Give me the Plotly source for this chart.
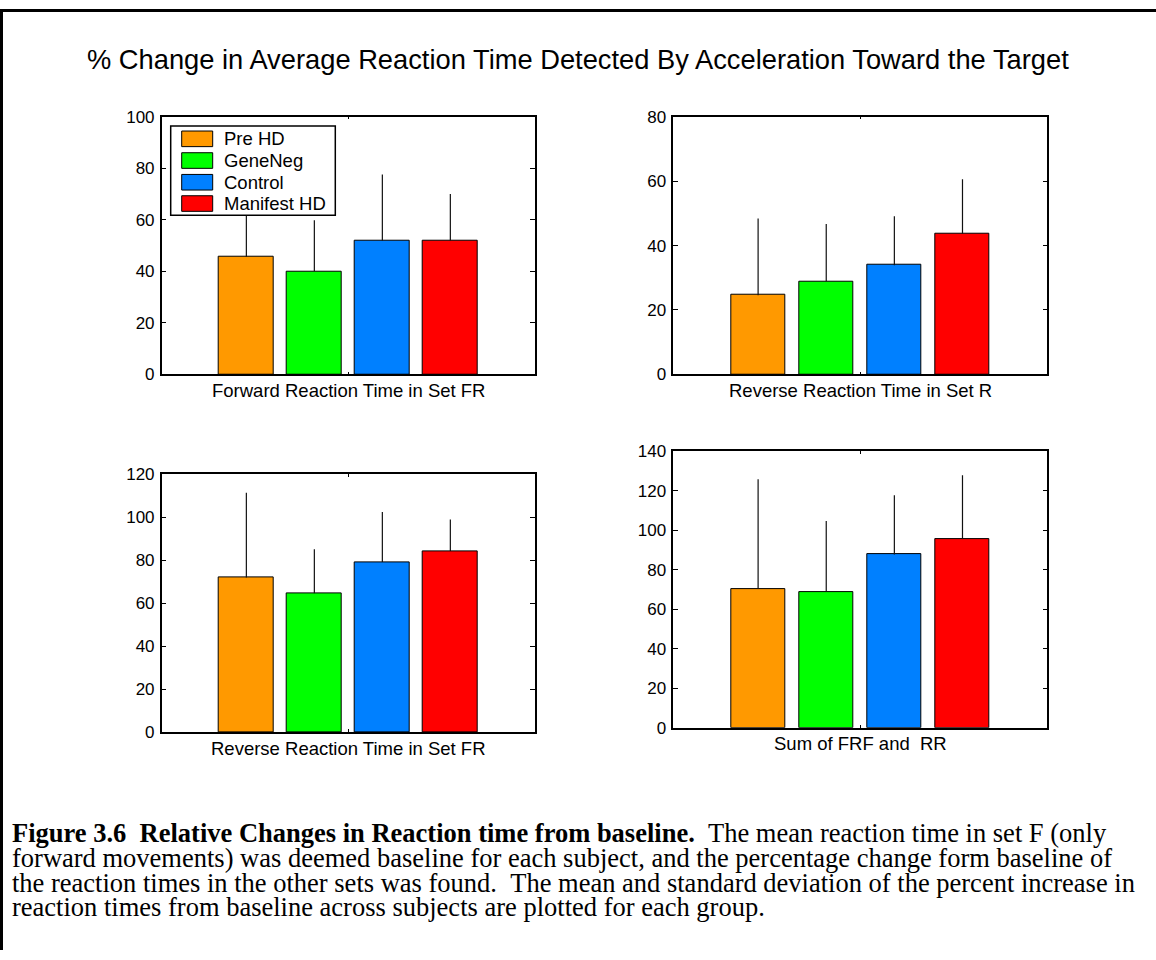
import plotly.graph_objects as go

# ---- data -------------------------------------------------------------
groups = ["Pre HD", "GeneNeg", "Control", "Manifest HD"]
group_colors = ["#FF9900", "#00FF00", "#0080FF", "#FF0000"]

panel_labels = [
    "Forward Reaction Time in Set FR",
    "Reverse Reaction Time in Set R",
    "Reverse Reaction Time in Set FR",
    "Sum of FRF and \u00a0RR",
]

# mean % change from baseline, one list per panel (order follows `groups`)
fwd_fr_mean = [45.7, 40.0, 52.0, 52.0]
rev_r_mean = [24.6, 28.9, 33.9, 43.7]
rev_fr_mean = [72.0, 64.7, 79.2, 84.3]
sum_mean = [70.2, 68.8, 87.7, 95.5]

# standard deviation (drawn upward only)
fwd_fr_sd = [21.0, 19.8, 25.6, 18.0]
rev_r_sd = [23.8, 17.8, 15.2, 16.9]
rev_fr_sd = [39.5, 20.5, 23.3, 14.7]
sum_sd = [55.5, 35.8, 29.9, 32.3]

y_max = [100, 80, 120, 140]

means = [fwd_fr_mean, rev_r_mean, rev_fr_mean, sum_mean]
sds = [fwd_fr_sd, rev_r_sd, rev_fr_sd, sum_sd]

fig_title = "% Change in Average Reaction Time Detected By Acceleration Toward the Target"

caption_lines = [
    "<b>Figure 3.6 \u00a0Relative Changes in Reaction time from baseline.</b> \u00a0The mean reaction time in set F (only",
    "forward movements) was deemed baseline for each subject, and the percentage change form baseline of",
    "the reaction times in the other sets was found. \u00a0The mean and standard deviation of the percent increase in",
    "reaction times from baseline across subjects are plotted for each group.",
]

# ---- page geometry (pixels on the printed page) -----------------------
W, H = 1156, 960
PAGE_TOP, PAGE_SCALE = 8.0, 0.98   # vertical placement of the plot area on the page


def fx(px):
    return px / W


def fy(py):
    return 1 - ((py - PAGE_TOP) / PAGE_SCALE) / H


# left, right, top, bottom of each axes box
boxes = [
    (161.7, 535.0, 115.7, 373.3),
    (673.3, 1047.3, 115.7, 373.3),
    (161.7, 535.0, 473.3, 731.0),
    (673.3, 1047.3, 450.0, 726.7),
]

SANS = "Liberation Sans, Arial, Helvetica, sans-serif"
SERIF = "Liberation Serif, Times New Roman, serif"

fig = go.Figure()
annotations = []
shapes = []
layout_axes = {}

x_pos = list(range(1, len(groups) + 1))

for i, (m, s, ymax, box, lab) in enumerate(zip(means, sds, y_max, boxes, panel_labels), start=1):
    xa = "x" if i == 1 else f"x{i}"
    ya = "y" if i == 1 else f"y{i}"
    fig.add_trace(
        go.Bar(
            x=x_pos,
            y=m,
            width=0.8,
            marker=dict(color=group_colors, line=dict(color="black", width=1)),
            error_y=dict(
                type="data",
                symmetric=False,
                array=s,
                arrayminus=[0] * len(s),
                width=0,
                color="#111111",
                thickness=1.2,
            ),
            xaxis=xa,
            yaxis=ya,
            showlegend=False,
            hovertemplate="%{y}<extra></extra>",
        )
    )
    left, right, top, bottom = box
    xkey = "xaxis" if i == 1 else f"xaxis{i}"
    ykey = "yaxis" if i == 1 else f"yaxis{i}"
    layout_axes[xkey] = dict(
        domain=[fx(left), fx(right)],
        anchor=ya,
        range=[-0.245, 5.245],
        tickvals=[2.5],
        ticktext=[""],
        ticks="inside",
        ticklen=3,
        tickcolor="black",
        showline=True,
        linecolor="black",
        linewidth=1.5,
        mirror="ticks",
        showgrid=False,
        zeroline=False,
        fixedrange=True,
    )
    layout_axes[ykey] = dict(
        domain=[fy(bottom), fy(top)],
        anchor=xa,
        range=[0, ymax],
        dtick=20,
        ticks="inside",
        ticklen=5,
        tickcolor="black",
        tickfont=dict(family=SANS, size=17, color="black"),
        ticklabelstandoff=2,
        showline=True,
        linecolor="black",
        linewidth=1.5,
        mirror="ticks",
        showgrid=False,
        zeroline=False,
        fixedrange=True,
    )
    annotations.append(
        dict(
            text=lab,
            x=fx((left + right) / 2),
            y=fy(bottom + 16),
            xref="paper",
            yref="paper",
            xanchor="center",
            yanchor="middle",
            showarrow=False,
            font=dict(family=SANS, size=18.5, color="black"),
        )
    )

# ---- legend box inside the first panel --------------------------------
leg_x0, leg_x1, leg_y0, leg_y1 = 170.7, 335.3, 125.0, 214.3
shapes.append(
    dict(
        type="rect",
        xref="paper",
        yref="paper",
        x0=fx(leg_x0),
        x1=fx(leg_x1),
        y0=fy(leg_y1),
        y1=fy(leg_y0),
        fillcolor="white",
        line=dict(color="black", width=1.5),
        layer="above",
    )
)
row_centers = [137.8, 159.5, 181.2, 202.5]
for name, col, cy in zip(groups, group_colors, row_centers):
    shapes.append(
        dict(
            type="rect",
            xref="paper",
            yref="paper",
            x0=fx(181.7),
            x1=fx(212.7),
            y0=fy(cy + 7.8),
            y1=fy(cy - 7.8),
            fillcolor=col,
            line=dict(color="black", width=1),
            layer="above",
        )
    )
    annotations.append(
        dict(
            text=name,
            x=fx(222.0),
            y=fy(cy),
            xref="paper",
            yref="paper",
            xanchor="left",
            yanchor="middle",
            showarrow=False,
            font=dict(family=SANS, size=18.5, color="black"),
        )
    )

# ---- figure title -----------------------------------------------------
annotations.append(
    dict(
        text=fig_title,
        x=fx(578),
        y=fy(58),
        xref="paper",
        yref="paper",
        xanchor="center",
        yanchor="middle",
        showarrow=False,
        font=dict(family=SANS, size=27.3, color="black"),
    )
)

# ---- caption ------------------------------------------------------------
caption_y = [832, 857, 882, 906]
for line, cy in zip(caption_lines, caption_y):
    annotations.append(
        dict(
            text=line,
            x=fx(10),
            y=fy(cy),
            xref="paper",
            yref="paper",
            xanchor="left",
            yanchor="middle",
            showarrow=False,
            font=dict(family=SERIF, size=26.5, color="black"),
        )
    )

# ---- page frame (top and left rules) -------------------------------------
shapes.append(dict(type="line", xref="paper", yref="paper", x0=0, x1=1, y0=0.9985, y1=0.9985,
                   line=dict(color="black", width=3)))
shapes.append(dict(type="line", xref="paper", yref="paper", x0=fx(1.5), x1=fx(1.5), y0=0, y1=1,
                   line=dict(color="black", width=3)))

fig.update_layout(
    width=W,
    height=H,
    margin=dict(l=0, r=0, t=0, b=0),
    paper_bgcolor="white",
    plot_bgcolor="white",
    annotations=annotations,
    shapes=shapes,
    bargap=0,
    **layout_axes,
)

fig.write_html("out.html", config={"displayModeBar": False})
